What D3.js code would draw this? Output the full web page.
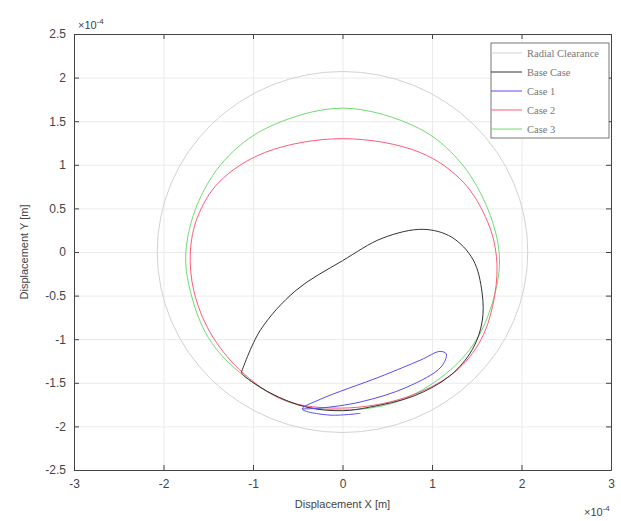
<!DOCTYPE html>
<html lang="en">
<head>
    <meta charset="UTF-8">
    <title>Orbit Plot</title>
    <script src="https://d3js.org/d3.v7.min.js"></script>
    <style>
        body { margin: 0; background: #fff; }
        .grid line { stroke: #ebebeb; stroke-width: 1px; }
        .grid path { display: none; }
        .axis path, .axis line { stroke: #444; }
        .axis text { font-family: Arial, "Liberation Sans", sans-serif; font-size: 12px; fill: #444; }
        .lbl { font-family: Arial, "Liberation Sans", sans-serif; font-size: 11px; fill: #444; }
        .leg { font-family: "Liberation Serif", "DejaVu Serif", serif; font-size: 10.5px; fill: #777; }
    </style>
</head>
<body>
    <svg width="621" height="521"></svg>

    <script>
        // all values in units of 1e-4 m
        const xTicks = [-3, -2, -1, 0, 1, 2, 3];
        const yTicks = [-2.5, -2, -1.5, -1, -0.5, 0, 0.5, 1, 1.5, 2, 2.5];

        const radialClearance = 2.07;

        const baseCase = [
            [-1.13, -1.38], [-0.92, -0.9], [-0.52, -0.44], [0, -0.1], [0.45, 0.16],
            [0.9, 0.26], [1.22, 0.17], [1.46, -0.09], [1.56, -0.47], [1.56, -0.8],
            [1.45, -1.12], [1.2, -1.42], [0.8, -1.65], [0.3, -1.78], [0, -1.82],
            [-0.4, -1.78], [-0.8, -1.62], [-1.1, -1.42]
        ];

        const case1 = [
            [0.2, -1.85], [-0.15, -1.87], [-0.45, -1.8], [-0.25, -1.69], [0.42, -1.43],
            [0.87, -1.24], [1.09, -1.14], [1.16, -1.17], [1.1, -1.32], [0.72, -1.55],
            [0.2, -1.72], [-0.25, -1.79], [-0.45, -1.8]
        ];

        const case2 = [
            [0, 1.3], [0.87, 1.14], [1.35, 0.8], [1.62, 0.35], [1.72, -0.05],
            [1.7, -0.5], [1.55, -1.0], [1.25, -1.38], [0.7, -1.67], [0, -1.79],
            [-0.65, -1.7], [-1.15, -1.35], [-1.48, -0.92], [-1.66, -0.45],
            [-1.7, 0], [-1.62, 0.4], [-1.38, 0.8], [-0.87, 1.14]
        ];

        const case3 = [
            [0, 1.65], [0.85, 1.42], [1.3, 1.05], [1.6, 0.55], [1.75, 0],
            [1.71, -0.45], [1.5, -1.0], [1.15, -1.4], [0.6, -1.72], [0, -1.81],
            [-0.6, -1.72], [-1.15, -1.38], [-1.5, -0.98], [-1.7, -0.45],
            [-1.75, 0], [-1.62, 0.55], [-1.32, 1.05], [-0.85, 1.42]
        ];

        const seriesNames = ['Radial Clearance', 'Base Case', 'Case 1', 'Case 2', 'Case 3'];
        const seriesColors = ['#d2d2d2', '#333333', '#5b4cf0', '#ff5a7a', '#6fdc6f'];

        const W = 621, H = 521;
        const m = { left: 74, right: 611, top: 34, bottom: 470 };

        const x = d3.scaleLinear().domain([-3, 3]).range([m.left, m.right]);
        const y = d3.scaleLinear().domain([-2.5, 2.5]).range([m.bottom, m.top]);

        const svg = d3.select('svg');

        // grid
        svg.append('g').attr('class', 'grid')
            .attr('transform', `translate(0,${m.bottom})`)
            .call(d3.axisBottom(x).tickValues(xTicks).tickSize(-(m.bottom - m.top)).tickFormat(''));
        svg.append('g').attr('class', 'grid')
            .attr('transform', `translate(${m.left},0)`)
            .call(d3.axisLeft(y).tickValues(yTicks).tickSize(-(m.right - m.left)).tickFormat(''));

        // curves
        const line = d3.line().x(d => x(d[0])).y(d => y(d[1]));

        svg.append('ellipse')
            .attr('cx', x(0)).attr('cy', y(0))
            .attr('rx', x(radialClearance) - x(0))
            .attr('ry', y(0) - y(radialClearance))
            .attr('fill', 'none').attr('stroke', seriesColors[0]).attr('stroke-width', 1);

        svg.append('path')
            .attr('d', line.curve(d3.curveCatmullRomClosed)(case3))
            .attr('fill', 'none').attr('stroke', seriesColors[4]).attr('stroke-width', 1);
        svg.append('path')
            .attr('d', line.curve(d3.curveCatmullRomClosed)(case2))
            .attr('fill', 'none').attr('stroke', seriesColors[3]).attr('stroke-width', 1);
        svg.append('path')
            .attr('d', line.curve(d3.curveCatmullRom)(baseCase.concat([baseCase[0]])))
            .attr('fill', 'none').attr('stroke', seriesColors[1]).attr('stroke-width', 1);
        svg.append('path')
            .attr('d', line.curve(d3.curveCatmullRom)(case1))
            .attr('fill', 'none').attr('stroke', seriesColors[2]).attr('stroke-width', 1);

        // axes with inward ticks, box all round
        const fmt = d => String(d);
        svg.append('g').attr('class', 'axis')
            .attr('transform', `translate(0,${m.bottom})`)
            .call(d3.axisBottom(x).tickValues(xTicks).tickSizeInner(-5).tickSizeOuter(0).tickPadding(9).tickFormat(fmt));
        svg.append('g').attr('class', 'axis')
            .attr('transform', `translate(0,${m.top})`)
            .call(d3.axisTop(x).tickValues(xTicks).tickSizeInner(-5).tickSizeOuter(0).tickFormat(''));
        svg.append('g').attr('class', 'axis')
            .attr('transform', `translate(${m.left},0)`)
            .call(d3.axisLeft(y).tickValues(yTicks).tickSizeInner(-5).tickSizeOuter(0).tickPadding(8).tickFormat(fmt));
        svg.append('g').attr('class', 'axis')
            .attr('transform', `translate(${m.right},0)`)
            .call(d3.axisRight(y).tickValues(yTicks).tickSizeInner(-5).tickSizeOuter(0).tickFormat(''));

        // exponent labels
        const expY = svg.append('text').attr('class', 'lbl').attr('x', m.left + 4).attr('y', m.top - 5);
        expY.append('tspan').text('\u00d710');
        expY.append('tspan').attr('dy', -5).attr('font-size', 8).text('-4');
        const expX = svg.append('text').attr('class', 'lbl').attr('x', m.right - 27).attr('y', H - 5);
        expX.append('tspan').text('\u00d710');
        expX.append('tspan').attr('dy', -5).attr('font-size', 8).text('-4');

        // axis titles
        svg.append('text').attr('class', 'lbl')
            .attr('x', x(0)).attr('y', 508).attr('text-anchor', 'middle')
            .text('Displacement  X [m]');
        svg.append('text').attr('class', 'lbl')
            .attr('transform', `translate(28,${y(0)}) rotate(-90)`)
            .attr('text-anchor', 'middle').attr('font-size', 12)
            .text('Displacement Y [m]');

        // legend
        const lg = svg.append('g').attr('transform', 'translate(491,43)');
        lg.append('rect').attr('width', 118).attr('height', 95)
            .attr('fill', '#fff').attr('stroke', '#555').attr('stroke-width', 0.8);
        seriesNames.forEach((name, i) => {
            const yy = 10 + i * 19;
            lg.append('line').attr('x1', 0).attr('x2', 31).attr('y1', yy).attr('y2', yy)
                .attr('stroke', seriesColors[i]).attr('stroke-width', 1);
            lg.append('text').attr('class', 'leg').attr('x', 36).attr('y', yy + 3.5).text(name);
        });
    </script>
</body>
</html>
